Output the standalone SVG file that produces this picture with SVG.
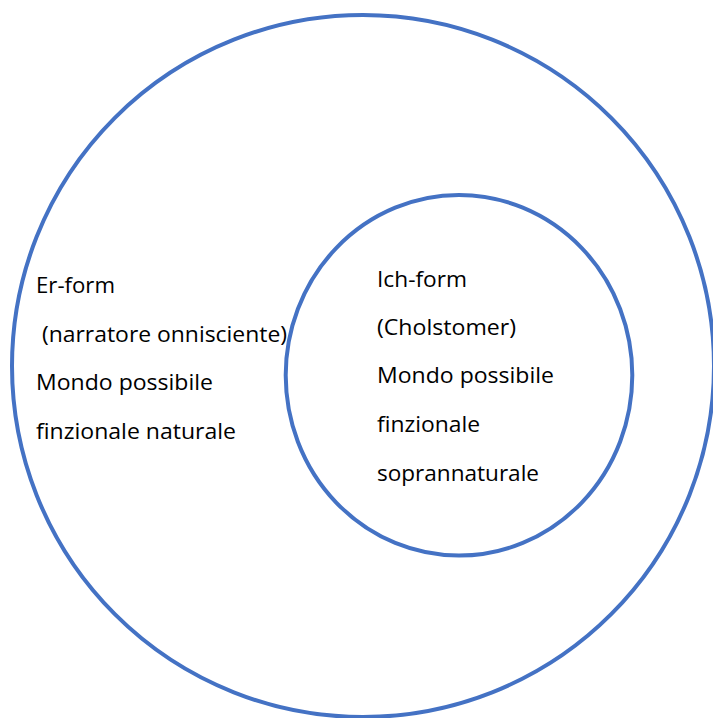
<svg xmlns="http://www.w3.org/2000/svg" width="713" height="718" viewBox="0 0 713 718">
<style>
.ring{fill:none;stroke:#4472C4;stroke-width:4}
.lbl{font-family:"Open Sans","Liberation Sans",sans-serif;font-size:22px;fill:#000}
</style>
<rect width="713" height="718" fill="#fff"/>
<g id="outer-world">
<ellipse class="ring" cx="363" cy="366" rx="351" ry="351"/>
<text class="lbl" x="36" y="293" textLength="79" lengthAdjust="spacingAndGlyphs">Er-form</text>
<text class="lbl" x="42" y="342" textLength="245" lengthAdjust="spacingAndGlyphs">(narratore onnisciente)</text>
<text class="lbl" x="36" y="390" textLength="177" lengthAdjust="spacingAndGlyphs">Mondo possibile</text>
<text class="lbl" x="36" y="439" textLength="200" lengthAdjust="spacingAndGlyphs">finzionale naturale</text>
</g>
<g id="inner-world">
<ellipse class="ring" cx="459" cy="375.3" rx="173.3" ry="180.3"/>
<text class="lbl" x="377" y="287" textLength="90" lengthAdjust="spacingAndGlyphs">Ich-form</text>
<text class="lbl" x="377" y="335" textLength="139" lengthAdjust="spacingAndGlyphs">(Cholstomer)</text>
<text class="lbl" x="377" y="383" textLength="177" lengthAdjust="spacingAndGlyphs">Mondo possibile</text>
<text class="lbl" x="377" y="432" textLength="103" lengthAdjust="spacingAndGlyphs">finzionale</text>
<text class="lbl" x="377" y="481" textLength="162" lengthAdjust="spacingAndGlyphs">soprannaturale</text>
</g>
<g id="connectors"/>
</svg>
